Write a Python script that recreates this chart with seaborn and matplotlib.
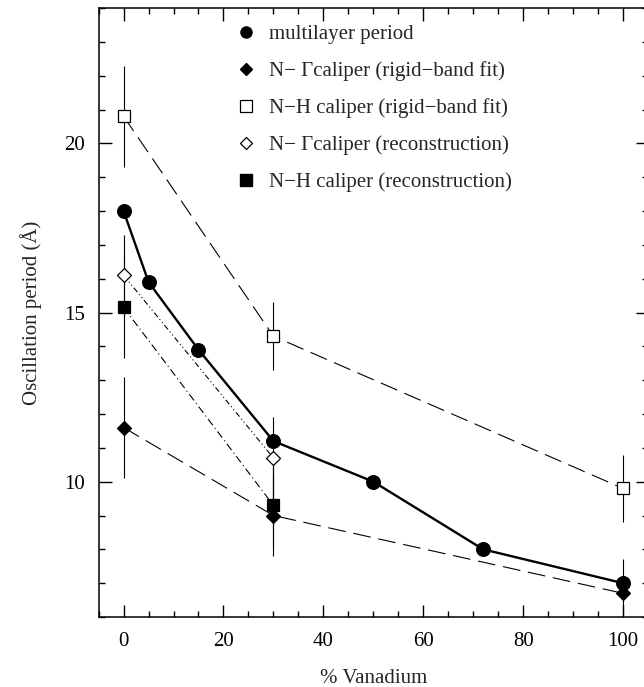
import seaborn as sns
import matplotlib.pyplot as plt
import pandas as pd
from matplotlib.lines import Line2D
from matplotlib.ticker import MultipleLocator

# data
ml_x = [0, 5, 15, 30, 50, 72, 100]
ml_y = [18.0, 15.9, 13.9, 11.2, 10.0, 8.0, 7.0]

ng_rigid_x = [0, 30, 100]
ng_rigid_y = [11.6, 9.0, 6.7]
ng_rigid_err = [1.5, 1.2, 1.0]

nh_rigid_x = [0, 30, 100]
nh_rigid_y = [20.8, 14.3, 9.8]
nh_rigid_err = [1.5, 1.0, 1.0]

ng_rec_x = [0, 30]
ng_rec_y = [16.1, 10.7]
ng_rec_err = [1.2, 1.2]

nh_rec_x = [0, 30]
nh_rec_y = [15.15, 9.3]
nh_rec_err = [1.5, 1.2]

labels = ['multilayer period',
          'N\u2212 \u0393caliper (rigid\u2212band fit)',
          'N\u2212H caliper (rigid\u2212band fit)',
          'N\u2212 \u0393caliper (reconstruction)',
          'N\u2212H caliper (reconstruction)']

sns.set_style('ticks')
plt.rcParams['font.family'] = ['Liberation Serif', 'DejaVu Serif']

fig = plt.figure(figsize=(6.44, 6.87), dpi=100)
ax = fig.add_axes([98.6 / 644, 70 / 687, (648 - 98.6) / 644, 609 / 687])

# error bars first (thin vertical lines, no caps)
for xs, ys, es in [(ng_rigid_x, ng_rigid_y, ng_rigid_err),
                   (nh_rigid_x, nh_rigid_y, nh_rigid_err),
                   (ng_rec_x, ng_rec_y, ng_rec_err),
                   (nh_rec_x, nh_rec_y, nh_rec_err)]:
    ax.errorbar(xs, ys, yerr=es, fmt='none', ecolor='black', elinewidth=0.8, capsize=0, zorder=1)

series = [
    (ng_rigid_x, ng_rigid_y, 'D', 'black', (0, (16, 7)), 0.8, 7),
    (nh_rigid_x, nh_rigid_y, 's', 'white', (0, (16, 7)), 0.8, 9),
    (ng_rec_x, ng_rec_y, 'D', 'white', (0, (5, 2.5, 1, 2.5, 1, 2.5)), 0.8, 7),
    (nh_rec_x, nh_rec_y, 's', 'black', (0, (7, 3, 1, 3)), 0.8, 8.5),
]
for xs, ys, mk, fc, ls, lw, ms in series:
    df = pd.DataFrame({'x': xs, 'y': ys})
    sns.lineplot(data=df, x='x', y='y', ax=ax, color='black', linestyle=ls, linewidth=lw,
                 marker=mk, markersize=ms, markerfacecolor=fc, markeredgecolor='black',
                 markeredgewidth=0.9, zorder=2)

df_ml = pd.DataFrame({'x': ml_x, 'y': ml_y})
sns.lineplot(data=df_ml, x='x', y='y', ax=ax, color='black', linewidth=1.7,
             marker='o', markersize=10, markerfacecolor='black', markeredgecolor='black', zorder=3)

ax.set_xlim(-5, 105)
ax.set_ylim(6, 24)
ax.xaxis.set_major_locator(MultipleLocator(20))
ax.xaxis.set_minor_locator(MultipleLocator(5))
ax.yaxis.set_major_locator(MultipleLocator(5))
ax.yaxis.set_minor_locator(MultipleLocator(1))
ax.tick_params(which='both', direction='in', top=True, right=True, width=1.0, colors='black')
ax.tick_params(which='major', length=9, labelsize=15)
ax.tick_params(axis='x', which='major', pad=11)
ax.tick_params(axis='y', which='major', pad=10)
ax.tick_params(which='minor', length=4)
for sp in ax.spines.values():
    sp.set_linewidth(1.1)
    sp.set_color('black')

ax.set_xlabel('% Vanadium', fontsize=15, labelpad=13)
ax.set_ylabel('Oscillation period (\u00c5)', fontsize=15, labelpad=16)

handles = [
    Line2D([], [], linestyle='none', marker='o', markersize=8, color='black'),
    Line2D([], [], linestyle='none', marker='D', markersize=6, color='black'),
    Line2D([], [], linestyle='none', marker='s', markersize=8, markerfacecolor='white',
           markeredgecolor='black', markeredgewidth=0.9),
    Line2D([], [], linestyle='none', marker='D', markersize=6, markerfacecolor='white',
           markeredgecolor='black', markeredgewidth=0.9),
    Line2D([], [], linestyle='none', marker='s', markersize=8, color='black'),
]
ax.legend(handles, labels, loc='upper left', bbox_to_anchor=(0.235, 0.986), frameon=False,
          fontsize=15, handlelength=1.0, handletextpad=0.6, labelspacing=0.82,
          borderaxespad=0)

fig.savefig('out.png', dpi=100)
